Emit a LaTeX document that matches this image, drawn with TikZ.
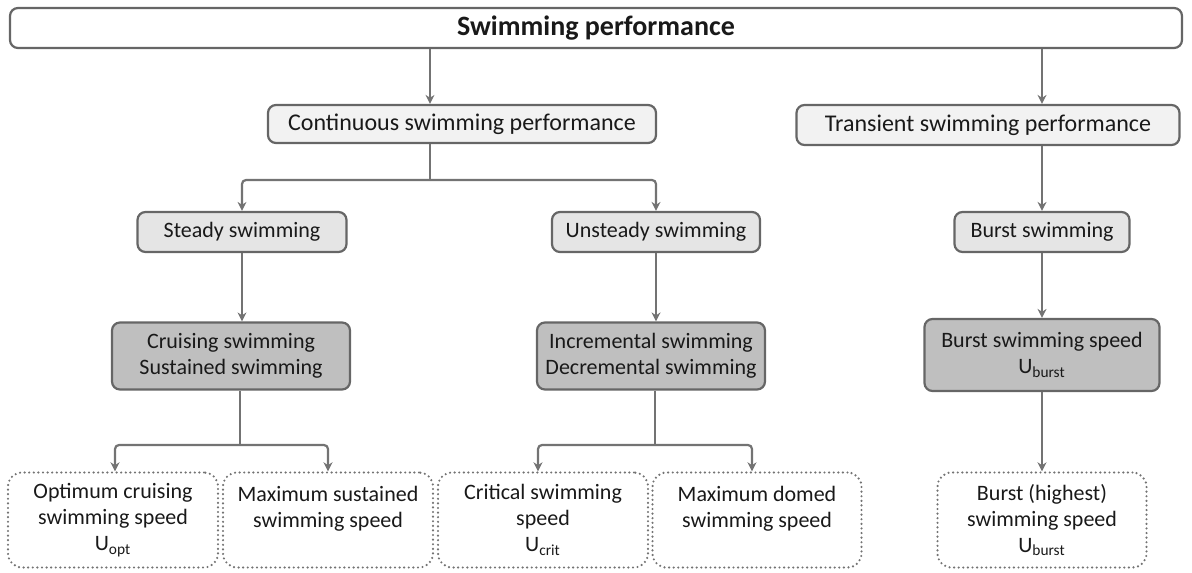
\documentclass[tikz,border=0pt]{standalone}
\usepackage{fontspec}
\setmainfont{Carlito}
\usetikzlibrary{arrows.meta}

\tikzset{
  box/.style={draw=gray!80!black, line width=1.1pt, rounded corners=4pt, align=center,
    text=black!90, inner sep=2pt, font=\fontsize{11}{13}\selectfont},
  topbox/.style={box, fill=white, font=\fontsize{14}{16}\selectfont\bfseries},
  mainbox/.style={box, fill=gray!10, font=\fontsize{12}{14}\selectfont},
  subbox/.style={box, fill=gray!20},
  typebox/.style={box, fill=gray!50},
  speedbox/.style={box, draw=gray!90!black, line width=1.2pt, dash pattern=on 0pt off 2.3pt,
    line cap=round, rounded corners=7pt},
  arr/.style={draw=gray!90!black, line width=1.1pt, rounded corners=2pt, -{Stealth[length=4.5pt,width=4.5pt]}},
  link/.style={draw=gray!90!black, line width=1.1pt}
}

\begin{document}
\begin{tikzpicture}[x=0.5pt, y=-0.5pt]
      \useasboundingbox (0,0) rectangle (1192,572);

      \node[topbox, minimum width=586pt, minimum height=20pt] (perf) at (596,28) {Swimming performance};

      \node[mainbox, minimum width=194pt, minimum height=19pt] (cont) at (462,124) {Continuous swimming performance};
      \node[mainbox, minimum width=191.5pt, minimum height=20pt] (trans) at (988,125) {Transient swimming performance};

      \node[subbox, minimum width=104.5pt, minimum height=20pt] (steady) at (242,232) {Steady swimming};
      \node[subbox, minimum width=104pt, minimum height=20pt] (unsteady) at (656,232) {Unsteady swimming};
      \node[subbox, minimum width=87.5pt, minimum height=20pt] (burst) at (1042,232) {Burst swimming};

      \node[typebox, minimum width=119pt, minimum height=33.5pt] (cruise) at (231,356) {Cruising swimming\\Sustained swimming};
      \node[typebox, minimum width=114pt, minimum height=33.5pt] (incr) at (651,356) {Incremental swimming\\Decremental swimming};
      \node[typebox, minimum width=117.5pt, minimum height=36pt] (burstspd) at (1042,355) {Burst swimming speed\\U\textsubscript{burst}};

      \node[speedbox, minimum width=105pt, minimum height=47.5pt] (opt) at (113,520) {Optimum cruising\\swimming speed\\U\textsubscript{opt}};
      \node[speedbox, minimum width=105pt, minimum height=47.5pt] (sust) at (328,520) {Maximum sustained\\swimming speed\\\phantom{U}};
      \node[speedbox, minimum width=105pt, minimum height=47.5pt] (crit) at (543,520) {Critical swimming\\speed\\U\textsubscript{crit}};
      \node[speedbox, minimum width=104.5pt, minimum height=47.5pt] (domed) at (757,520) {Maximum domed\\swimming speed\\\phantom{U}};
      \node[speedbox, minimum width=104.5pt, minimum height=47.5pt] (highest) at (1042,520) {Burst (highest)\\swimming speed\\U\textsubscript{burst}};

      \coordinate (jc) at (430,180);
      \coordinate (jt) at (1042,0);
      \coordinate (jcr) at (240,445);
      \coordinate (jin) at (655,445);

      \draw[arr] (perf.south -| jc) -- (cont.north -| jc);
      \draw[arr] (perf.south -| jt) -- (trans.north -| jt);

      \draw[link] (cont.south -| jc) -- (jc);
      \draw[arr] (jc) -| (steady.north);
      \draw[arr] (jc) -| (unsteady.north);
      \draw[arr] (trans.south -| jt) -- (burst.north);

      \draw[arr] (steady.south) -- (steady |- cruise.north);
      \draw[arr] (unsteady.south) -- (unsteady |- incr.north);
      \draw[arr] (burst.south) -- (burstspd.north);

      \draw[link] (cruise.south -| jcr) -- (jcr);
      \draw[arr] (jcr) -| ([xshift=1pt]opt.north);
      \draw[arr] (jcr) -| (sust.north);
      \draw[link] (incr.south -| jin) -- (jin);
      \draw[arr] (jin) -| ([xshift=-2.5pt]crit.north);
      \draw[arr] (jin) -| ([xshift=-2.5pt]domed.north);
      \draw[arr] (burstspd.south) -- (highest.north);
    \end{tikzpicture}
\end{document}
